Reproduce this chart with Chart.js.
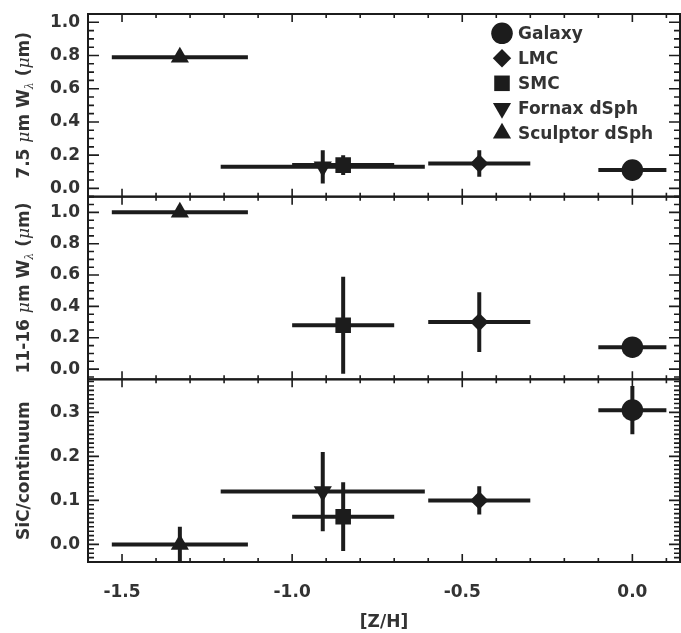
<!DOCTYPE html>
<html><head><meta charset="utf-8">
<script src="https://cdn.jsdelivr.net/npm/chart.js@4.4.1/dist/chart.umd.min.js"></script>
<style>html,body{margin:0;padding:0;background:#fff;}#wrap{width:681px;height:633px;}</style>
</head><body><div id="wrap"><canvas id="c" width="681" height="633"></canvas></div>
<script>
// ---- data ----
const objects = ['Galaxy', 'LMC', 'SMC', 'Fornax dSph', 'Sculptor dSph'];
const zH      = [0.00, -0.45, -0.85, -0.91, -1.33];
const zHErr   = [0.10, 0.15, 0.15, 0.30, 0.20];
const w75     = [0.11, 0.15, 0.14, 0.13, 0.79];
const w75Err  = [0, 0.08, 0.06, 0.10, 0];
const w1116   = [0.14, 0.30, 0.28, null, 1.00];
const w1116Err= [0, 0.19, 0.31, null, 0];
const sic     = [0.305, 0.10, 0.063, 0.12, 0.00];
const sicErr  = [0.055, 0.032, 0.078, 0.09, 0.04];
const xTicks  = [-1.5, -1.0, -0.5, 0.0];
const yTicksW = [0.0, 0.2, 0.4, 0.6, 0.8, 1.0];
const yTicksS = [0.0, 0.1, 0.2, 0.3];

// ---- styles ----
const INK = '#1c1c1c', TXT = '#333333';
const FONT = {family: '"DejaVu Sans", sans-serif', size: 17, weight: 'bold'};
const BOLD = 'bold 17px "DejaVu Sans", sans-serif';
const MU = 'italic 17px "DejaVu Serif", serif';
const SUB = 'italic 11px "DejaVu Serif", serif';
const marker = {
  'Galaxy': {pointStyle: 'circle', rotation: 0, radius: 10.8},
  'LMC': {pointStyle: 'rectRot', rotation: 0, radius: 9.2},
  'SMC': {pointStyle: 'rect', rotation: 0, radius: 11},
  'Fornax dSph': {pointStyle: 'triangle', rotation: 180, radius: 10.5},
  'Sculptor dSph': {pointStyle: 'triangle', rotation: 0, radius: 10.5}
};
const panels = [
  {axis: 'yT', vals: w75, errs: w75Err},
  {axis: 'yM', vals: w1116, errs: w1116Err},
  {axis: 'yS', vals: sic, errs: sicErr}
];
const titles = {
  yT: [{t: '7.5 ', f: BOLD}, {t: '\u03BC', f: MU}, {t: 'm W', f: BOLD}, {t: '\u03BB', f: SUB, dy: 4}, {t: ' (', f: BOLD}, {t: '\u03BC', f: MU}, {t: 'm)', f: BOLD}],
  yM: [{t: '11-16 ', f: BOLD}, {t: '\u03BC', f: MU}, {t: 'm W', f: BOLD}, {t: '\u03BB', f: SUB, dy: 4}, {t: ' (', f: BOLD}, {t: '\u03BC', f: MU}, {t: 'm)', f: BOLD}],
  yS: [{t: 'SiC/continuum', f: BOLD}]
};

const datasets = [];
panels.forEach(p => {
  objects.forEach((name, i) => {
    if (p.vals[i] === null) return;
    const m = marker[name];
    datasets.push({
      label: name, yAxisID: p.axis,
      data: [{x: zH[i], y: p.vals[i]}],
      xErr: zHErr[i], yErr: p.errs[i],
      pointStyle: m.pointStyle, rotation: m.rotation, pointRadius: m.radius,
      backgroundColor: INK, borderColor: INK, borderWidth: 0, pointBorderWidth: 0,
      showLine: false
    });
  });
});

const errorBars = {
  id: 'errorBars',
  beforeDatasetsDraw(chart) {
    const ctx = chart.ctx, xs = chart.scales.x, ca = chart.chartArea;
    chart.data.datasets.forEach(ds => {
      const ys = chart.scales[ds.yAxisID];
      const p = ds.data[0];
      ctx.save();
      ctx.beginPath();
      ctx.rect(ca.left, ys.top, ca.right - ca.left, ys.bottom - ys.top);
      ctx.clip();
      ctx.strokeStyle = INK; ctx.lineWidth = 4; ctx.lineCap = 'butt';
      const px = xs.getPixelForValue(p.x), py = ys.getPixelForValue(p.y);
      ctx.beginPath();
      ctx.moveTo(xs.getPixelForValue(p.x - ds.xErr), py);
      ctx.lineTo(xs.getPixelForValue(p.x + ds.xErr), py);
      if (ds.yErr > 0) {
        ctx.moveTo(px, ys.getPixelForValue(p.y - ds.yErr));
        ctx.lineTo(px, ys.getPixelForValue(p.y + ds.yErr));
      }
      ctx.stroke();
      ctx.restore();
    });
  }
};

function near(a, b) { return Math.abs(a - b) < 1e-6; }
const frame = {
  id: 'frame',
  afterDraw(chart) {
    const ctx = chart.ctx, xs = chart.scales.x, ca = chart.chartArea;
    ctx.save();
    ctx.strokeStyle = INK;
    const minorStep = {yT: 0.05, yM: 0.05, yS: 0.01};
    for (const id of ['yT', 'yM', 'yS']) {
      const s = chart.scales[id];
      const top = s.top, bot = s.bottom;
      ctx.lineWidth = 2;
      ctx.strokeRect(ca.left, top, ca.right - ca.left, bot - top);
      ctx.beginPath();
      for (let k = -16; k <= 1; k++) {
        const v = k / 10;
        const px = xs.getPixelForValue(v);
        const major = xTicks.some(t => near(t, v));
        const len = major ? 8 : 4;
        ctx.moveTo(px, bot); ctx.lineTo(px, bot - len);
        ctx.moveTo(px, top); ctx.lineTo(px, top + len);
      }
      ctx.lineWidth = 1.6;
      ctx.stroke();
      const majors = s.ticks.map(t => t.value);
      const st = minorStep[id];
      ctx.beginPath();
      for (let k = Math.ceil(s.min / st - 1e-6); k * st <= s.max + 1e-9; k++) {
        const v = k * st;
        const py = s.getPixelForValue(v);
        const major = majors.some(t => near(t, v));
        const len = major ? 11 : 6;
        ctx.moveTo(ca.left, py); ctx.lineTo(ca.left + len, py);
        ctx.moveTo(ca.right, py); ctx.lineTo(ca.right - len, py);
      }
      ctx.lineWidth = 1.6;
      ctx.stroke();
      const segs = titles[id];
      ctx.save();
      ctx.translate(22.5, (top + bot) / 2);
      ctx.rotate(-Math.PI / 2);
      ctx.textBaseline = 'alphabetic'; ctx.textAlign = 'left'; ctx.fillStyle = TXT;
      let total = 0;
      segs.forEach(g => { ctx.font = g.f; g.w = ctx.measureText(g.t).width; total += g.w; });
      let x = -total / 2;
      segs.forEach(g => { ctx.font = g.f; ctx.fillText(g.t, x, 6 + (g.dy || 0)); x += g.w; });
      ctx.restore();
    }
    ctx.restore();
  }
};

const legendBox = {
  id: 'legendBox',
  afterDraw(chart) {
    const ctx = chart.ctx;
    ctx.save();
    ctx.font = BOLD;
    ctx.textBaseline = 'middle'; ctx.textAlign = 'left';
    const x0 = 502, y0 = 33.3, dy = 25;
    objects.forEach((name, i) => {
      const m = marker[name];
      const y = y0 + i * dy;
      ctx.fillStyle = INK; ctx.strokeStyle = INK;
      Chart.helpers.drawPoint(ctx, {pointStyle: m.pointStyle, rotation: m.rotation, radius: m.radius, borderWidth: 0}, x0, y);
      ctx.fillStyle = TXT;
      ctx.fillText(name, 518, y + 1);
    });
    ctx.restore();
  }
};

function yScale(min, max, ticks) {
  return {
    type: 'linear', position: 'left', stack: 'panels', stackWeight: 1, offset: false,
    min: min, max: max,
    afterBuildTicks: s => { s.ticks = ticks.map(v => ({value: v})); },
    afterFit: s => { s.width = 88; s.paddingTop = 0; s.paddingBottom = 0; s.paddingLeft = 0; s.paddingRight = 0; },
    ticks: {font: FONT, color: TXT, padding: 8, autoSkip: false, callback: v => Number(v).toFixed(1)},
    grid: {display: false, drawTicks: false},
    border: {display: false},
    title: {display: false}
  };
}

new Chart(document.getElementById('c'), {
  type: 'scatter',
  data: {datasets: datasets},
  plugins: [errorBars, frame, legendBox],
  options: {
    responsive: false, animation: false, devicePixelRatio: 1,
    layout: {autoPadding: false, padding: {top: 14, right: 1, left: 0, bottom: 0}},
    plugins: {legend: {display: false}, tooltip: {enabled: false}},
    scales: {
      x: {
        type: 'linear', position: 'bottom', min: -1.6, max: 0.14,
        afterBuildTicks: s => { s.ticks = xTicks.map(v => ({value: v})); },
        afterFit: s => { s.height = 71; s.paddingLeft = 0; s.paddingRight = 0; },
        ticks: {font: FONT, color: TXT, padding: 20, autoSkip: false, maxRotation: 0, callback: v => Number(v).toFixed(1)},
        grid: {display: false, drawTicks: false},
        border: {display: false},
        title: {display: true, text: '[Z/H]', font: FONT, color: TXT, padding: {top: 0, bottom: 0}}
      },
      yS: yScale(-0.04, 0.375, yTicksS),
      yM: yScale(-0.065, 1.1, yTicksW),
      yT: yScale(-0.05, 1.05, yTicksW)
    }
  }
});
</script>
</body></html>
